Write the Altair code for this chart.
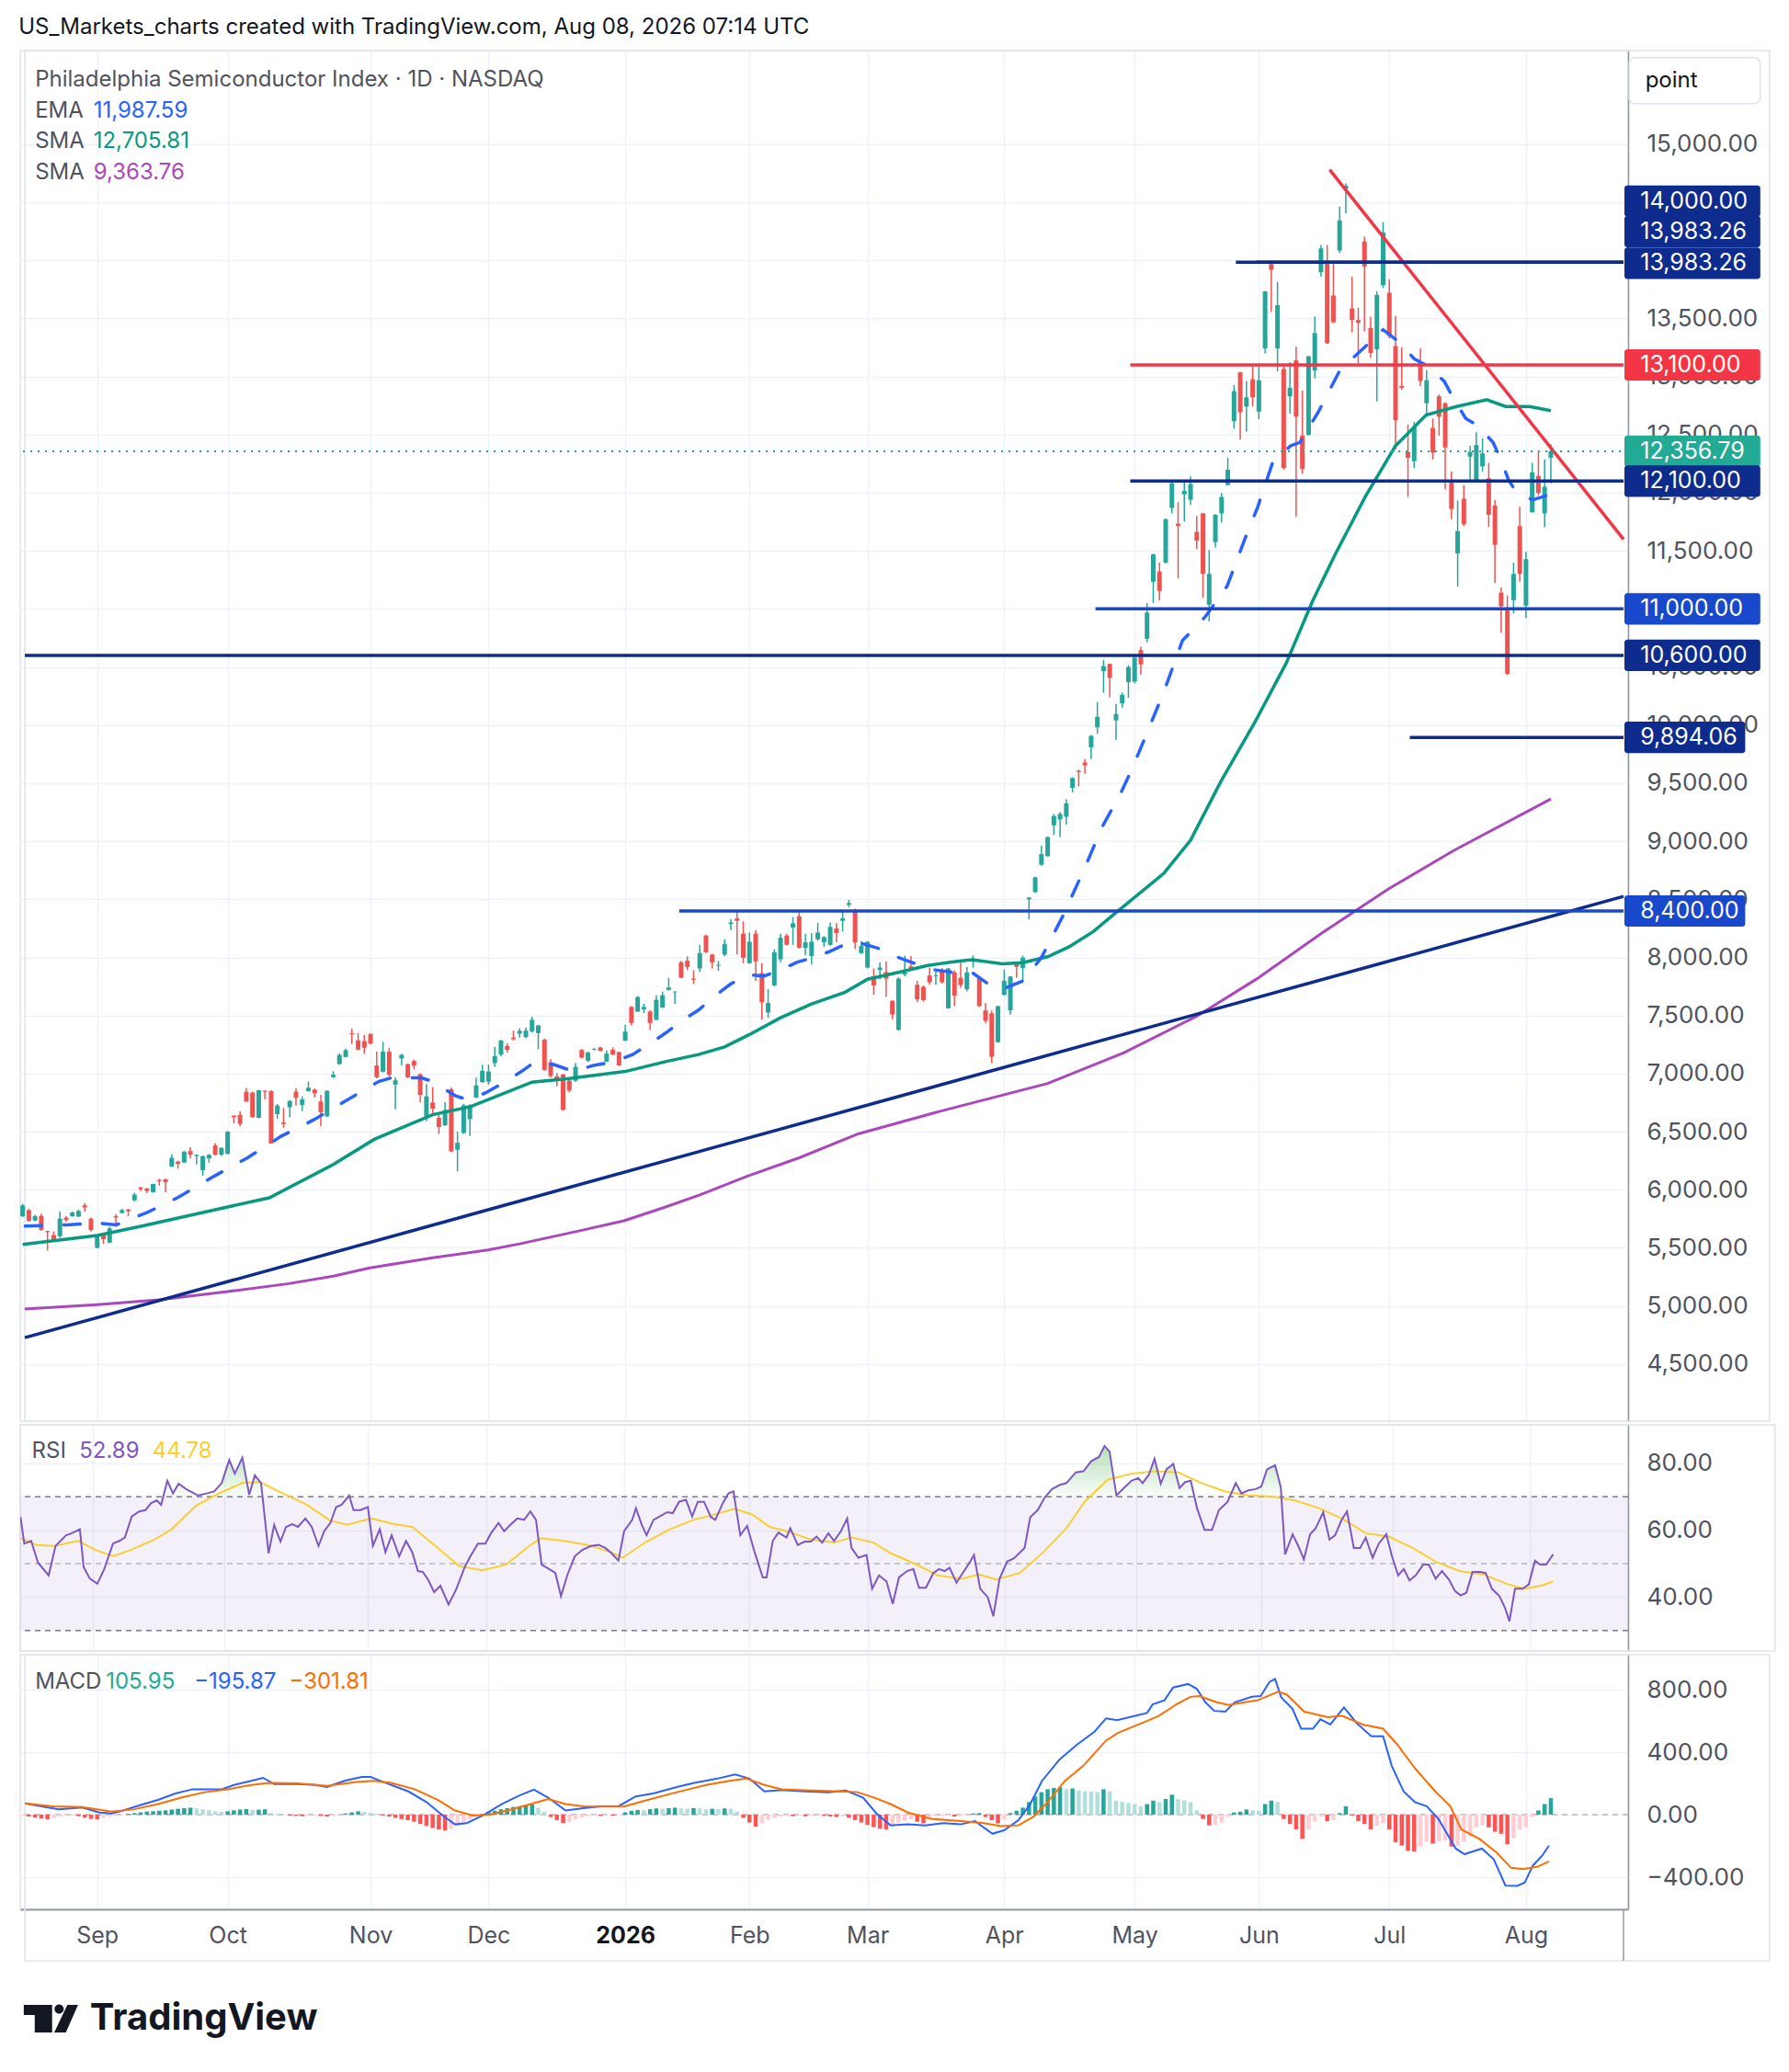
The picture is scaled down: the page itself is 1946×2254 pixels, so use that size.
import altair as alt
import numpy as np
import pandas as pd

# ---------------------------------------------------------------- text
HEADER = "US_Markets_charts created with TradingView.com, Aug 08, 2026 07:14 UTC"
SYMBOL = "Philadelphia Semiconductor Index · 1D · NASDAQ"

# ---------------------------------------------------------------- daily candles (bar index 0 = 2 Sep 2025)
FIRST_BAR = -12
OPEN = [5772,5825,5735,5775,5645,5610,5600,5760,5772,5770,5865,5751,
5500,5615,5545,5772,5800,5830,5910,6020,6011,5979,
6085,6090,6200,6243,6235,6333,6290,6169,6270,6380,
6301,6309,6638,6645,6844,6836,6619,6852,6849,6651,
6579,6711,6844,6730,6849,6862,6759,6632,6970,7082,
7143,7347,7286,7280,7340,7069,7016,7188,6905,7130,
7082,7108,6995,6632,6751,6619,6555,6865,6344,6489,
6608,6793,6926,6930,7090,7164,7238,7310,7344,7315,
7362,7349,7291,7098,6976,6992,6939,6939,7203,7111,
7206,7225,7103,7204,7185,7283,7574,7534,7553,7534,
7463,7569,7720,7700,7958,7971,7817,7905,8188,8024,
7930,8024,8288,8336,8204,7950,8204,7865,7526,7759,
7984,8188,8257,8354,8082,8011,8156,8130,8108,8249,
8315,8452,8407,8037,7913,7838,7892,7873,7627,7376,
7852,7923,7764,7746,7844,7838,7878,7562,7871,7824,
7726,7962,7824,7544,7518,7271,7678,7544,7944,7908,
8500,8562,8798,8871,9137,9188,9210,9460,9606,9678,
9809,9980,10464,10526,10040,10187,10369,10375,10646,10743,
11234,11322,11398,11869,11734,11986,11940,11663,11822,11036,
11575,11822,12066,12615,13036,12742,12977,12698,13242,13968,
13242,13065,12830,13139,12492,12498,13053,13897,13971,13697,
14085,14615,13586,13486,14162,13418,13233,13786,13721,13262,
12918,12351,12271,13115,12771,12557,12830,12771,12110,11478,
11948,12310,12110,12227,12124,11889,11140,11007,11075,11713,
11028,11831,12145,11822,12301]
HIGH = [5880,5835,5785,5795,5648,5640,5812,5772,5812,5830,5883,5760,
5605,5620,5680,5791,5835,5835,5975,6024,6016,6052,
6095,6095,6307,6250,6333,6367,6307,6295,6307,6402,
6367,6505,6640,6677,6876,6844,6860,6857,6857,6738,
6704,6772,6876,6804,6931,6870,6817,6857,7021,7175,
7214,7386,7347,7333,7347,7188,7275,7222,6968,7169,
7085,7122,7003,6910,6883,6645,6754,6881,6502,6740,
6735,6965,7076,7076,7230,7291,7260,7370,7389,7397,
7489,7420,7300,7124,7005,7000,6960,7092,7210,7190,
7220,7230,7198,7227,7190,7420,7580,7667,7600,7545,
7674,7706,7825,7710,7970,8010,7890,8108,8195,8030,
7970,8156,8328,8394,8310,8214,8236,7950,7727,8071,
8204,8204,8347,8389,8204,8209,8296,8182,8301,8294,
8394,8495,8420,8143,8140,7905,7958,7966,7630,7830,
8016,8011,7799,7760,7913,7878,7910,7910,7889,7955,
7918,8018,7830,7606,7544,7585,7897,7840,7955,8016,
8520,8695,8962,9040,9235,9253,9362,9550,9617,9708,
9915,10198,10562,10530,10180,10280,10516,10610,10675,11051,
11475,11398,11778,12095,11919,12095,12140,11801,11825,11507,
11815,11998,12301,12927,13040,12962,13109,13086,13736,13997,
13815,13086,13124,13256,12880,13180,13515,14132,14132,13968,
14462,14662,13859,13594,14203,13515,13733,14329,13838,13521,
13250,12586,12610,13242,13056,12639,12845,12780,12183,11934,
12066,12404,12521,12469,12257,11939,11184,11116,11398,11880,
11492,12257,12360,12286,12418]
LOW = [5765,5725,5730,5648,5476,5570,5587,5724,5768,5764,5812,5640,
5495,5534,5539,5680,5795,5772,5900,5989,5971,5975,
6037,5979,6196,6182,6230,6270,6217,6121,6233,6295,
6290,6305,6571,6547,6755,6619,6615,6778,6395,6611,
6534,6624,6725,6677,6845,6796,6547,6628,6963,7075,
7140,7254,7200,7169,7250,6960,7010,6976,6693,7069,
6960,7037,6751,6592,6645,6479,6550,6325,6158,6481,
6463,6790,6920,6905,7058,7150,7180,7283,7310,7304,
7355,7209,7025,6965,6891,6680,6838,6930,7129,7098,
7200,7190,7100,7158,7065,7280,7415,7530,7521,7375,
7460,7565,7715,7600,7820,7890,7772,7873,8037,7905,
7886,8010,8235,8024,7950,7945,7799,7463,7481,7750,
7958,8103,8108,8078,8018,7939,8143,8090,8100,8130,
8222,8434,8071,8030,7905,7680,7812,7659,7468,7370,
7838,7886,7614,7620,7764,7764,7775,7560,7580,7737,
7708,7911,7575,7435,7090,7265,7671,7508,7824,7796,
8326,8556,8790,8865,9053,9035,9144,9420,9471,9580,
9708,9925,10278,10240,9871,10150,10235,10360,10434,10713,
11051,11075,11390,11822,11263,11752,11895,11516,11095,10890,
11528,11742,12060,12551,12457,12527,12742,12633,13198,13556,
13045,12200,12680,11793,12163,12492,12986,13859,13280,13460,
14065,14403,13380,13115,13389,13162,12786,13762,13330,12374,
12889,11963,12213,12918,12663,12286,12492,12028,11772,11193,
11713,12095,12095,12183,11704,11222,10793,10430,10963,11234,
10919,11831,11977,11704,12080]
CLOSE = [5865,5732,5772,5653,5635,5574,5751,5740,5804,5817,5848,5653,
5600,5574,5667,5760,5825,5815,5958,6005,5989,6050,
6075,6065,6275,6222,6328,6301,6300,6288,6301,6301,
6360,6500,6624,6566,6759,6624,6857,6844,6399,6725,
6566,6764,6791,6778,6878,6831,6667,6852,6990,7161,
7201,7340,7206,7222,7259,6968,7188,6989,6942,7161,
6968,7069,6817,6804,6698,6540,6688,6330,6404,6727,
6727,6899,7024,7018,7151,7283,7204,7296,7368,7370,
7463,7415,7031,6979,6957,6687,6854,7058,7137,7182,
7212,7196,7172,7164,7071,7362,7436,7659,7574,7436,
7635,7674,7741,7705,7825,7918,7807,8037,8045,7958,
7937,8116,8301,8315,7997,8135,7966,7614,7608,8045,
8169,8108,8294,8082,8130,8135,8214,8175,8262,8209,
8336,8468,8130,8098,8135,7759,7913,7817,7508,7817,
7870,7905,7640,7632,7786,7844,7786,7905,7671,7762,
7871,7988,7580,7453,7144,7580,7798,7835,7918,7998,
8515,8689,8889,9035,9217,9235,9326,9544,9595,9653,
9907,10071,10507,10406,10095,10260,10499,10581,10522,10969,
11469,11154,11772,12081,11713,12016,12075,11587,11301,11301,
11810,11963,12198,12874,12692,12821,12821,12968,13733,13918,
13615,12213,12903,12654,12204,13174,13374,14103,13286,13468,
14344,14644,13486,13462,13947,13203,13703,14241,13350,12624,
12904,12301,12566,12962,12968,12345,12654,12389,11860,11669,
11728,12351,12410,12339,11810,11551,11022,10440,11301,11301,
11428,12175,11998,12051,12357]

# MACD histogram, one value per bar
HIST = [-8,-12,-18,-25,-30,-22,-12,-8,-6,-10,-18,-27,
-30,-22,-14,-8,-3,5,10,15,20,22,
25,28,33,38,42,45,40,35,28,22,
18,22,28,33,36,30,32,35,12,5,
2,-5,-8,-10,-6,-3,-8,-12,-6,-2,
8,15,22,18,12,5,-5,-12,-20,-28,
-35,-45,-60,-72,-85,-95,-100,-92,-70,-50,
-30,-12,5,15,25,35,42,50,55,62,
65,45,20,-15,-35,-54,-45,-30,-18,-10,
-5,-8,-4,-6,-3,15,25,30,28,35,
40,38,42,45,40,38,42,40,35,38,
36,40,38,20,-20,-50,-76,-55,-35,-20,
-12,-8,-10,-6,-10,-8,-4,-8,-12,-15,
-10,-20,-35,-50,-65,-80,-90,-95,-65,-50,
-40,-30,-45,-55,-20,-10,-8,-5,-12,-8,
-4,8,10,-15,-35,-55,-30,10,25,45,
81,117,144,163,171,176,163,168,155,150,
148,145,163,150,90,82,75,68,54,68,
90,81,100,128,100,92,80,27,-27,-68,
-65,-50,-15,14,19,33,28,26,68,90,
81,-27,-60,-95,-155,-95,-45,-14,-41,-35,
10,54,-5,-41,-60,-95,-70,-55,-95,-177,
-198,-231,-236,-204,-175,-185,-170,-165,-204,-200,
-175,-136,-81,-70,-81,-109,-122,-190,-150,-95,
-81,-14,27,68,106]

# moving averages (bar index, value)
EMA_X = [-11.6,-4.8,0,3.1,8,12.9,18.8,24.2,29.6,35,40.4,45.3,47.3,52.2,54,57.7,59.6,62.5,65.1,68.3,
70.4,73.6,76.7,79.9,83,86.2,88.9,91.5,94.1,96.8,99.4,102,104.7,107.3,110,112.6,115.2,117.9,120.5,122.1,
125.8,128.4,131.1,134.2,137.8,140.8,143.7,145.7,149.1,152,155.5,158.9,161.8,164.8,166.8,171.7,174.7,178.4,181.9,184.8,
186.8,189.2,192.1,193.6,196.6,200,202.6,204.1,207,209.5,212,214,216.8,218.3,220.3,222.2,224.7,225.7,227.2,228.6,
231.1,232.6,234]
EMA_V = [5687,5698,5714,5698,5804,5931,6116,6275,6460,6606,6778,6931,6963,6963,6931,6807,6775,6833,6912,7018,
7098,7076,7018,7071,7098,7164,7256,7349,7455,7547,7667,7772,7852,7839,7891,7958,7997,8050,8116,8135,
8077,8011,7958,7897,7871,7871,7762,7726,7799,7999,8362,8762,9126,9417,9649,10285,10728,10934,11198,11610,
11875,12257,12404,12433,12698,13050,13183,13256,13403,13300,13153,13095,12962,12815,12639,12580,12433,12316,12110,11992,
11939,11963,11988]
SMA50_X = [-12,0,7.2,21,27.7,38,44.6,54,60,70,76,85,91.5,96.8,101,105,110,115,120.4,124,
129.5,133.7,137.3,140.8,145.7,149,153,156.4,160.4,163.3,165.3,171.7,176,180.9,186.5,191.4,195.6,199.2,204.1,209,
213.9,218.8,223.7,226.7,230.6,234]
SMA50_V = [5530,5606,5688,5852,5931,6217,6434,6646,6714,6926,6957,7018,7103,7164,7230,7336,7481,7600,7701,7812,
7878,7931,7958,7980,7944,7955,8006,8090,8224,8355,8442,8724,9009,9516,10039,10533,11062,11460,11963,12404,
12668,12742,12801,12742,12742,12706]
SMA200_X = [-11.67,0,9.9,21,30.6,38,43.9,54,62.9,68,77.5,84.8,91.5,97.1,104.6,113,122.5,135.4,153,165.3,
177,186.6,197.2,207.8,218.3,234]
SMA200_V = [4973,5010,5053,5124,5190,5256,5328,5415,5481,5534,5645,5733,5852,5958,6116,6275,6481,6672,6915,7180,
7494,7813,8212,8588,8918,9364]

# RSI(14) and its moving average
RSI_X = [-11.6,-11,-9.9,-8.8,-7.1,-6,-4.3,-3.4,-2.1,-1.5,-0.5,0.7,1.8,3.2,4.2,5.1,6.2,7.4,8.4,9.3,
10.2,10.9,11.9,12.8,13.7,14.9,16.8,18.2,19.4,20.6,21.8,22.7,23.9,25,25.9,26.9,28.1,29,30,30.9,
31.9,32.8,34,35,36.1,37,38,38.9,39.8,41,41.7,42.8,44,44.8,45.9,46.8,47.8,49,50.1,51.1,
52,52.8,53.7,54.6,55.6,56.9,58.1,59.5,60.4,61.6,62.8,63.7,64.9,65.8,66.8,67.9,69,70,70.9,71.8,
73,74,74.9,75.9,77.1,78.3,79.7,80.9,82,83,84.1,85,86.3,86.9,87.8,88.6,89.7,90.7,91.9,92.8,
93.8,94.9,95.9,96.8,97.8,98.9,99.6,100.8,101.7,102.5,103.6,104.7,105.9,107.2,107.8,108.8,109.7,111,111.6,112.8,
113.9,114.9,115.8,116.7,117.7,118.6,119.7,120.7,121.4,122.5,123.8,124.7,125.8,127,128,129,130.3,131.3,132.2,133.3,
134.5,135.4,136.3,137.1,138.2,139.2,140.4,141,142,143.2,144.1,145.1,146.3,147.4,149.1,150,151.2,152.3,153.5,154.7,
155.8,157.3,158.5,159.8,161,161.9,162.7,163.8,165,166.2,167.3,168,169,169.9,170.9,171.8,172.9,173.9,174.8,175.7,
176.7,177.9,179.1,180.2,181.6,182.9,183.8,184.9,186.1,187,187.9,189.2,190.1,190.8,192,192.9,193.8,194.8,195.7,196.9,
197.9,198.8,199.8,200.7,201.8,202.8,203.7,204.8,205.8,207,207.9,208.9,209.8,210.7,211.7,212.9,213.8,214.9,215.9,217,
218,218.9,219.8,220.8,222,222.9,223.9,225.1,226,226.7,227.6,228.8,229.8,230.8,231.6,232.6,233.7]
RSI_V = [63.9,56,56.8,50.3,46.5,55.3,58.5,59.1,60.3,49,45.5,44,48.4,56,56.8,57.8,64.1,65.6,66,68.1,
68.9,67.6,74.8,71,73.9,72.3,70.4,71,71.6,74.1,81,76.9,81.7,70.6,76.4,74.1,53.1,61.6,56.6,61,
61.8,61,63.5,61,55.3,59.7,62.2,66.9,67.6,70.4,66,66,66.9,55.3,60.3,53.4,58.5,52.2,56.8,53.4,
47.8,47.5,45,41.5,43.4,37.8,42.2,49,52.2,56,56,59.1,62.2,59.7,61.6,63.5,63.1,65.6,63.1,49.7,
48.4,47.2,40.3,46.5,52.2,54.1,55.3,55.6,54.7,53.1,50.9,59.7,63.1,66.6,61.8,58.5,63.1,64.1,65.4,65.1,
68.5,69.1,64.1,68.5,68.5,63.9,63.1,68.1,71,71.6,58.5,61.3,53.4,45.9,45.9,56.8,59.3,57.8,60.6,55.6,
56.6,56.6,58.1,56.3,59.1,56.8,59.7,63.5,54.7,51.8,52.6,42.5,46.5,44.7,38,45.9,47.8,48.4,42.8,42.8,
47.2,48.4,47.8,48.8,44.3,47.2,50.6,52.6,42.5,40,34.3,45.5,50.6,51.6,54.7,63.9,66,69.7,72.3,73.5,
74.1,77.3,77.6,80.7,81.9,85.2,83.5,70.4,72.6,74.8,75.6,74.1,76.6,81.4,73.9,78.2,79.8,72.6,74.4,74.8,
66.6,60.1,60.1,66,68.5,74.1,71,71.9,72.3,73.1,78.2,79.4,72.9,52.8,58.8,55.3,51.3,58.8,60.6,65.4,
57.2,58.5,62.9,65.6,54.7,54.7,57.8,51.8,56,58.8,52.2,46.5,48.4,45,46.5,49.7,49.7,45.5,47.8,45.3,
41.8,40.5,41.3,47.5,47.5,47.2,42.5,40.3,36.8,32.8,42.5,42.5,43.8,50.9,49.7,49.7,52.8]
RSIMA_X = [-11.6,-9,-6.2,-2.4,0.4,3.2,6,9.8,12.6,16.4,20.1,23.9,26.7,30.4,34.2,38,40.7,44.5,48.2,51.1,
54.8,58.6,62.3,66.1,69.8,71.7,75.4,79.2,82.9,84.8,88.6,92.3,96.1,98.9,102.7,105.5,108.3,111.1,114.9,118.6,
121.4,124.9,127.7,131.5,135.2,139,141.8,144.6,148.3,152.1,155.8,158.7,162.4,166.2,169.9,173.7,177.4,181.2,184.9,188.7,
192.4,196.2,199.9,203.7,207.4,211.2,214.9,218.7,222.5,226.2,229,231.8,233.7]
RSIMA_V = [57.6,55.6,55.3,56.8,54.1,52.2,54.1,57.2,60.3,67.2,71,74.1,74.4,71,67.6,62.8,61.6,63.5,61.8,61,
55.3,49.3,48,49.7,55.3,57.6,56.8,55.6,53.4,51.8,56.6,60.3,63.1,64.4,66.4,64.7,61,59.7,57.2,56.3,
57.8,56.3,53.1,50,46.5,45.5,46.8,45.3,47.2,53.4,60.6,68.5,75.1,76.9,77.6,77.3,74.1,71.6,70.4,70.1,
68.9,66.6,63.5,59.1,58.1,54.7,50.6,47.8,46.8,44,42.5,43.4,44.7]

# MACD line and signal line
MACD_X = [-11.6,-9,-6.2,-2.4,0.4,2.3,4.2,7,9.8,12.6,15.4,20.1,22,24.8,26.7,28.5,32.3,35.1,37,39.8,
42.6,44,46.4,50.1,53,55.7,57.6,59.5,62.3,65.1,67.9,70.3,72.6,75.4,78.3,81.1,83.9,86.7,89.5,93.3,
96.1,99.8,102.7,105,107.4,110.2,113.9,117.7,120.5,123.3,125.5,127.7,130.5,133.3,136.2,139,141.3,144.1,146,148.3,
150.2,152.1,154.9,157.7,160.5,162.4,164.2,167.1,169,169.9,171.8,173.2,175.6,177,178.4,179.8,181.6,183.1,185.9,187.3,
188.7,189.6,190.6,192.4,193.8,195.7,196.9,198.5,200.7,202.8,205.1,207,208.4,210.3,212.1,214,215.9,218.7,220.1,222.9,
224.8,226.7,228.6,229.8,231.1,232.6,233.7]
MACD_V = [73,54,35,46,14,8,27,62,95,136,163,163,190,217,236,196,196,190,177,217,
242,242,204,149,81,-8,-62,-54,0,68,122,160,109,27,41,54,54,117,136,177,
204,231,258,231,149,158,149,144,155,109,5,-68,-62,-68,-54,-62,-41,-122,-100,-35,
68,217,353,448,530,617,606,633,652,706,733,815,837,807,720,665,660,720,755,760,
850,869,752,679,551,551,611,578,687,584,502,502,312,149,81,54,-27,-217,-253,-217,
-285,-454,-456,-435,-326,-263,-198]
SIG_X = [-11.6,-7.1,-2.4,2.3,6,9.8,13.5,17.3,21,24.8,27.6,32.3,37,41.7,44.5,47.3,51.1,54.8,57.6,60.4,
63.2,66.1,69.8,72.6,75.4,78.3,82,84.8,88.6,93.3,98,101.8,104.5,107.4,110.2,114.9,119.6,122.4,125,127.7,
130.5,134.3,139,142.7,145.5,148.3,150.7,153,155.8,158.7,162.4,164.3,168,170.9,173.7,176,177.4,180.2,182.1,186.8,
190.1,191.5,194.3,198.1,200.4,203.7,207,209.3,212.1,215.4,217.8,219.6,222.5,225.3,227.6,229.5,231.8,233.7]
SIG_V = [73,54,49,19,35,68,109,144,163,190,204,201,185,209,217,204,163,95,27,-5,
0,27,68,100,68,54,52,52,95,144,190,217,231,190,163,155,149,144,110,68,
14,-27,-41,-54,-73,-68,-14,81,217,312,475,524,584,633,706,755,760,720,703,733,
788,769,660,625,633,578,551,448,299,149,54,-95,-155,-244,-340,-348,-334,-299]

# drawings on the price pane
HLINE_START = [183.3, 186.6, 166.3, 166.3, 160.7, -11.65, 211.3, 93.7]
HLINE_PRICE = [13983.26, 13983.26, 13100.0, 12100.0, 11000.0, 10600.0, 9894.06, 8400.0]
HLINE_KIND = ["navy", "navy", "red", "navy", "blue", "navy", "navy", "blue"]
TREND_X = [-11.65, 245.7, 198.4, 245.7]
TREND_Y = [4727, 8525, 14780, 11600]
TREND_ID = ["support", "support", "resistance", "resistance"]
TREND_KIND = ["navy", "navy", "red", "red"]
LAST_PRICE = 12356.79

# price-scale tags
TAG_TEXT = ["14,000.00", "13,983.26", "13,983.26", "13,100.00", "12,356.79",
            "12,100.00", "11,000.00", "10,600.00", "9,894.06", "8,400.00"]
TAG_PRICE = [14510, 14248, 13975, 13100, 12356.79, 12100, 11000, 10600, 9894.06, 8400]
TAG_KIND = ["navy", "navy", "navy", "red", "last", "navy", "blue", "navy", "navy", "blue"]

# legends
MAIN_LEG_TEXT = [SYMBOL, "EMA", "11,987.59", "SMA", "12,705.81", "SMA", "9,363.76"]
MAIN_LEG_KIND = ["label", "label", "ema", "label", "sma50", "label", "sma200"]
RSI_LEG_TEXT = ["RSI", "52.89", "44.78"]
RSI_LEG_KIND = ["label", "rsi", "rsima"]
MACD_LEG_TEXT = ["MACD", "105.95", "\u2212195.87", "\u2212301.81"]
MACD_LEG_KIND = ["label", "hist", "macd", "signal"]

# axes
MONTH_POS = [0, 21, 44, 63, 85, 105, 124, 146, 167, 187, 208, 230]
MONTH_LABELS = ["Sep", "Oct", "Nov", "Dec", "2026", "Feb", "Mar", "Apr", "May", "Jun", "Jul", "Aug"]
PRICE_TICKS = [4500, 5000, 5500, 6000, 6500, 7000, 7500, 8000, 8500, 9000, 9500, 10000,
               10500, 11000, 11500, 12000, 12500, 13000, 13500, 14000, 14500, 15000]
PRICE_TICKS_UNDER_TAGS = [11000, 14000, 14500]   # fully covered by the price tags
RSI_TICKS = [40, 60, 80]
RSI_LEVELS = [70, 50, 30]
MACD_TICKS = [-400, 0, 400, 800]

# ---------------------------------------------------------------- layout / style
FONT = "Inter"
W = 1749
H_MAIN, H_RSI, H_MACD, H_LOGO = 1491, 246, 277, 90
XMIN, XMAX = -11.65, 245.7
X_FRAME = 269.2                       # outer right edge of the frame (bar units)
PRICE_DOMAIN = [4008, 15806]
RSI_DOMAIN = [23.9, 91.5]
MACD_DOMAIN = [-606, 1025]
MACD_FRAME_BOTTOM = -936              # bottom of the time-axis strip (MACD units)

UP, DOWN = "#26a69a", "#ef5350"
NAVY, BLUE, RED, TEAL = "#0e2c8e", "#1848cc", "#f23645", "#22ab94"
EMA_C, SMA50_C, SMA200_C = "#2962ff", "#089981", "#ab47bc"
RSI_C, RSIMA_C = "#7e57c2", "#f9cf2f"
MACD_C, SIG_C = "#2962ff", "#ff6d00"
GRID, BORDER, AXIS_C = "#eef1f8", "#e0e3eb", "#9598a1"
TXT, DARK, LVL = "#50535e", "#131722", "#787b86"

TAG_X0, TAG_TEXT_X, TAG_CHAR, TAG_HALF = 245.85, 248.4, 2.43, 135
LEG_X_LABEL, LEG_X_VALUE = -10.0, -0.6
MAIN_LEG_Y = [15551, 15286, 15286, 15023, 15023, 14751, 14751]
RSI_LEG_X, RSI_LEG_Y = [-9.8, -2.2, 9.5], 83.5
MACD_LEG_X, MACD_LEG_Y = [-10.0, 1.4, 15.6, 30.9], 848.7
UNIT_BOX = {"x1": [246.6], "x2": [267.7], "y1": [15350], "y2": [15745], "tx": [249.2], "ty": [15548], "t": ["point"]}
LOGO_ICON_X, LOGO_TEXT_X, LOGO_Y = -6.74, -0.5, 0.333
ICON_PATH = ("M-1,-0.506 L0.045,-0.506 L0.045,0.506 L-0.596,0.506 L-0.596,-0.135 L-1,-0.135 Z "
             "M0.124,0.506 L0.607,-0.506 L1,-0.506 L0.551,0.506 Z "
             "M0.134,-0.36 a0.169,0.169 0 1,0 0.338,0 a0.169,0.169 0 1,0 -0.338,0 Z")
LEG_FS, TAG_FS, AXIS_FS, MONTH_FS = 24, 25, 26, 25

# ---------------------------------------------------------------- frames
IDX = list(range(FIRST_BAR, FIRST_BAR + len(OPEN)))
candles = pd.DataFrame(list(zip(IDX, OPEN, HIGH, LOW, CLOSE)), columns=["i", "o", "h", "l", "c"])


def pts(xs, vs):
    return pd.DataFrame(list(zip(xs, vs)), columns=["i", "v"])


hist = pd.DataFrame(list(zip(IDX, HIST)), columns=["i", "h"])
prev = hist["h"].shift(1).fillna(hist["h"])
hist["k"] = np.where(hist["h"] >= 0,
                     np.where(hist["h"] >= prev, "pu", "pd"),
                     np.where(hist["h"] < prev, "nd", "nu"))

rsi_df = pts(RSI_X, RSI_V)
rsi_df["top"] = rsi_df["v"].clip(lower=RSI_LEVELS[0])
rsi_df["base"] = RSI_LEVELS[0]

hl = pd.DataFrame({"x": HLINE_START, "y": HLINE_PRICE, "kind": HLINE_KIND})
hl["x2"] = XMAX
trend = pd.DataFrame({"x": TREND_X, "y": TREND_Y, "id": TREND_ID, "kind": TREND_KIND})
tags = pd.DataFrame({"y": TAG_PRICE, "t": TAG_TEXT, "kind": TAG_KIND})
main_leg = pd.DataFrame({"t": MAIN_LEG_TEXT, "kind": MAIN_LEG_KIND, "y": MAIN_LEG_Y})
main_leg["x"] = np.where(main_leg["kind"] == "label", LEG_X_LABEL, LEG_X_VALUE)
rsi_leg = pd.DataFrame({"t": RSI_LEG_TEXT, "kind": RSI_LEG_KIND, "x": RSI_LEG_X})
rsi_leg["y"] = RSI_LEG_Y
macd_leg = pd.DataFrame({"t": MACD_LEG_TEXT, "k": MACD_LEG_KIND, "x": MACD_LEG_X})
macd_leg["y"] = MACD_LEG_Y

# ---------------------------------------------------------------- scales / axes
xs = alt.Scale(domain=[XMIN, XMAX], nice=False, zero=False)
ys_main = alt.Scale(domain=PRICE_DOMAIN, nice=False, zero=False)
ys_rsi = alt.Scale(domain=RSI_DOMAIN, nice=False, zero=False)
ys_macd = alt.Scale(domain=MACD_DOMAIN, nice=False, zero=False)

grid_x = alt.Axis(values=MONTH_POS, labels=False, ticks=False, domain=False, title=None,
                  grid=True, gridColor=GRID, gridWidth=1.5)
month_expr = "".join(f"datum.value == {p} ? '{m}' : " for p, m in zip(MONTH_POS, MONTH_LABELS)) + "''"
year_pos = MONTH_POS[MONTH_LABELS.index("2026")]
bottom_x = alt.Axis(values=MONTH_POS, labelExpr=month_expr, title=None, ticks=False,
                    grid=True, gridColor=GRID, gridWidth=1.5, domain=True, domainColor=AXIS_C,
                    domainWidth=2, labelFontSize=MONTH_FS, labelFont=FONT, labelPadding=16, labelFlush=False,
                    labelColor={"condition": {"test": f"datum.value == {year_pos}", "value": DARK}, "value": TXT},
                    labelFontWeight={"condition": {"test": f"datum.value == {year_pos}", "value": "bold"},
                                     "value": "normal"})


def right_axis(values, fmt, hidden=None):
    kw = {}
    if hidden:
        kw["labelExpr"] = f"indexof({list(hidden)}, datum.value) >= 0 ? '' : datum.label"
    return alt.Axis(orient="right", values=values, format=fmt, title=None, ticks=False,
                    labelPadding=20, labelFontSize=AXIS_FS, labelFont=FONT, labelColor=TXT,
                    grid=True, gridColor=GRID, gridWidth=1.5, domainColor=AXIS_C, domainWidth=1.5, **kw)


main_y_axis = right_axis(PRICE_TICKS, ",.2f", PRICE_TICKS_UNDER_TAGS)
rsi_y_axis = right_axis(RSI_TICKS, ".2f")
macd_y_axis = right_axis(MACD_TICKS, ",.2f")


def XG(field):          # x for price and RSI panes (month grid only)
    return alt.X(field, type="quantitative", scale=xs, axis=grid_x)


def XB(field):          # x for MACD pane (month labels)
    return alt.X(field, type="quantitative", scale=xs, axis=bottom_x)


def YM(field):
    return alt.Y(field, type="quantitative", scale=ys_main, axis=main_y_axis)


def YR(field):
    return alt.Y(field, type="quantitative", scale=ys_rsi, axis=rsi_y_axis)


def YD(field):
    return alt.Y(field, type="quantitative", scale=ys_macd, axis=macd_y_axis)


main_kind = alt.Scale(domain=["navy", "blue", "red", "last", "label", "ema", "sma50", "sma200"],
                      range=[NAVY, BLUE, RED, TEAL, TXT, EMA_C, SMA50_C, SMA200_C])
rsi_kind = alt.Scale(domain=["label", "rsi", "rsima"], range=[TXT, RSI_C, RSIMA_C])
macd_kind = alt.Scale(domain=["pu", "pd", "nd", "nu", "label", "hist", "macd", "signal"],
                      range=["#26a69a", "#b2dfdb", "#ff5252", "#ffcdd2", TXT, TEAL, MACD_C, SIG_C])


def frame(xenc, yenc, y_lo, y_hi):
    df = pd.DataFrame({"x1": [XMIN], "x2": [X_FRAME], "y1": [y_lo], "y2": [y_hi]})
    return alt.Chart(df).mark_rect(fill="white", fillOpacity=0, stroke=BORDER, strokeWidth=1.5).encode(
        x=xenc("x1"), x2="x2", y=yenc("y1"), y2="y2")

# ---------------------------------------------------------------- price pane
candle_color = alt.condition("datum.c >= datum.o", alt.value(UP), alt.value(DOWN))
wicks = alt.Chart(candles).mark_rule(strokeWidth=1.5, clip=True).encode(
    x=XG("i"), y=YM("l"), y2="h", color=candle_color)
bodies = alt.Chart(candles).mark_bar(size=5, clip=True).encode(
    x=XG("i"), y=YM("o"), y2="c", color=candle_color)


def ma_line(xv, vv, color, width, dash=None):
    kw = dict(color=color, strokeWidth=width, clip=True)
    if dash:
        kw["strokeDash"] = dash
        kw["strokeCap"] = "round"
    return alt.Chart(pts(xv, vv)).mark_line(**kw).encode(x=XG("i"), y=YM("v"))


sma200 = ma_line(SMA200_X, SMA200_V, SMA200_C, 3)
sma50 = ma_line(SMA50_X, SMA50_V, SMA50_C, 3.5)
ema = ma_line(EMA_X, EMA_V, EMA_C, 3.5, [18, 24])

kind_color = alt.Color("kind", type="nominal", scale=main_kind, legend=None)
hlines = alt.Chart(hl).mark_rule(strokeWidth=3.5).encode(x=XG("x"), x2="x2", y=YM("y"), color=kind_color)
trends = alt.Chart(trend).mark_line(strokeWidth=3.5, clip=True).encode(
    x=XG("x"), y=YM("y"), detail="id:N", color=kind_color)
last_rule = alt.Chart(pd.DataFrame({"y": [LAST_PRICE]})).mark_rule(
    color=TEAL, strokeWidth=2, strokeDash=[2, 6]).encode(y=YM("y"))

tag_boxes = alt.Chart(tags).transform_calculate(
    x1=f"{TAG_X0}", x2=f"{TAG_X0} + {TAG_CHAR} * length(datum.t)",
    y1=f"datum.y + {TAG_HALF}", y2=f"datum.y - {TAG_HALF}"
).mark_rect(cornerRadius=3).encode(x=XG("x1"), x2="x2", y=YM("y1"), y2="y2", color=kind_color)
tag_text = alt.Chart(tags).transform_calculate(tx=f"{TAG_TEXT_X}").mark_text(
    align="left", baseline="middle", color="white", fontSize=TAG_FS, font=FONT
).encode(x=XG("tx"), y=YM("y"), text="t:N")

unit_df = pd.DataFrame(UNIT_BOX)
unit_box = alt.Chart(unit_df).mark_rect(fill="white", stroke=BORDER, strokeWidth=1.5, cornerRadius=6).encode(
    x=XG("x1"), x2="x2", y=YM("y1"), y2="y2")
unit_text = alt.Chart(unit_df).mark_text(align="left", baseline="middle", color=DARK, fontSize=LEG_FS,
                                         font=FONT).encode(x=XG("tx"), y=YM("ty"), text="t:N")

main_legend = alt.Chart(main_leg).mark_text(align="left", baseline="middle", fontSize=LEG_FS, font=FONT).encode(
    x=XG("x"), y=YM("y"), text="t:N", color=kind_color)

main = alt.layer(frame(XG, YM, *PRICE_DOMAIN), wicks, bodies, sma200, sma50, ema, trends, hlines, last_rule,
                 tag_boxes, tag_text, unit_box, unit_text, main_legend).properties(width=W, height=H_MAIN)

# ---------------------------------------------------------------- RSI pane
band = alt.Chart(pd.DataFrame({"lo": [RSI_LEVELS[2]], "hi": [RSI_LEVELS[0]]})).mark_rect(
    color=RSI_C, opacity=0.09).encode(y=YR("lo"), y2="hi")
outer_lv = alt.Chart(pd.DataFrame({"v": [RSI_LEVELS[0], RSI_LEVELS[2]]})).mark_rule(
    color=LVL, strokeWidth=1.5, strokeDash=[6, 5]).encode(y=YR("v"))
mid_lv = alt.Chart(pd.DataFrame({"v": [RSI_LEVELS[1]]})).mark_rule(
    color=LVL, strokeWidth=1.5, strokeDash=[6, 5], opacity=0.5).encode(y=YR("v"))
ob_fill = alt.Chart(rsi_df).mark_area(
    clip=True,
    color=alt.Gradient(gradient="linear", x1=0, x2=0, y1=0, y2=1,
                       stops=[alt.GradientStop(color="rgba(76,175,80,0.40)", offset=0),
                              alt.GradientStop(color="rgba(76,175,80,0.03)", offset=1)])
).encode(x=XG("i"), y=YR("top"), y2="base")
rsi_ma = alt.Chart(pts(RSIMA_X, RSIMA_V)).mark_line(color=RSIMA_C, strokeWidth=2, clip=True).encode(
    x=XG("i"), y=YR("v"))
rsi_line = alt.Chart(rsi_df).mark_line(color=RSI_C, strokeWidth=2, clip=True).encode(
    x=XG("i"), y=YR("v"))
rsi_legend = alt.Chart(rsi_leg).mark_text(align="left", baseline="middle", fontSize=LEG_FS, font=FONT).encode(
    x=XG("x"), y=YR("y"), text="t:N", color=alt.Color("kind", type="nominal", scale=rsi_kind, legend=None))
rsi = alt.layer(frame(XG, YR, *RSI_DOMAIN), band, outer_lv, mid_lv, ob_fill, rsi_ma, rsi_line,
                rsi_legend).properties(width=W, height=H_RSI)

# ---------------------------------------------------------------- MACD pane
macd_color = alt.Color("k", type="nominal", scale=macd_kind, legend=None)
zero = alt.Chart(pd.DataFrame({"v": [0]})).mark_rule(
    color=LVL, strokeWidth=1.5, strokeDash=[6, 5], opacity=0.5).encode(y=YD("v"))
bars = alt.Chart(hist).mark_bar(size=4.5, clip=True).encode(
    x=XB("i"), y=YD("h"), y2=alt.Y2(datum=0), color=macd_color)
macd_line = alt.Chart(pts(MACD_X, MACD_V)).mark_line(color=MACD_C, strokeWidth=2, clip=True).encode(
    x=XB("i"), y=YD("v"))
sig_line = alt.Chart(pts(SIG_X, SIG_V)).mark_line(color=SIG_C, strokeWidth=2, clip=True).encode(
    x=XB("i"), y=YD("v"))
macd_legend = alt.Chart(macd_leg).mark_text(align="left", baseline="middle", fontSize=LEG_FS, font=FONT).encode(
    x=XB("x"), y=YD("y"), text="t:N", color=macd_color)
axis_strip = alt.Chart(pd.DataFrame({"x": [XMAX], "y1": [MACD_DOMAIN[0]], "y2": [MACD_FRAME_BOTTOM]})).mark_rule(
    color=AXIS_C, strokeWidth=1.5).encode(x=XB("x"), y=YD("y1"), y2="y2")
macd = alt.layer(frame(XB, YD, MACD_FRAME_BOTTOM, MACD_DOMAIN[1]), zero, bars, macd_line, sig_line,
                 macd_legend, axis_strip).properties(width=W, height=H_MACD)

# ---------------------------------------------------------------- logo strip
ly = alt.Scale(domain=[0, 1])
logo_icon = alt.Chart(pd.DataFrame({"i": [LOGO_ICON_X], "y": [LOGO_Y]})).mark_point(
    shape=ICON_PATH, filled=True, color=DARK, opacity=1, size=3481).encode(
    x=alt.X("i", type="quantitative", scale=xs, axis=None),
    y=alt.Y("y", type="quantitative", scale=ly, axis=None))
logo_text = alt.Chart(pd.DataFrame({"i": [LOGO_TEXT_X], "y": [LOGO_Y], "t": ["TradingView"]})).mark_text(
    align="left", baseline="middle", fontSize=40, fontWeight=700, font=FONT, color=DARK).encode(
    x=alt.X("i", type="quantitative", scale=xs, axis=None),
    y=alt.Y("y", type="quantitative", scale=ly, axis=None), text="t:N")
logo = alt.layer(logo_icon, logo_text).properties(
    width=W, height=H_LOGO, view=alt.ViewBackground(stroke="transparent"))

# ---------------------------------------------------------------- assemble
chart = alt.vconcat(
    main, rsi, macd, logo, spacing=0,
    title=alt.TitleParams(HEADER, anchor="start", font=FONT, fontSize=24, fontWeight="normal",
                          color=DARK, offset=12)
).resolve_scale(x="independent", y="independent", color="independent").properties(
    padding={"left": 12, "top": 9, "right": 0, "bottom": 0}
).configure(background="white").configure_view(stroke=BORDER, strokeWidth=1.5)

chart.save("out.html", embed_options={"renderer": "svg", "actions": False})
